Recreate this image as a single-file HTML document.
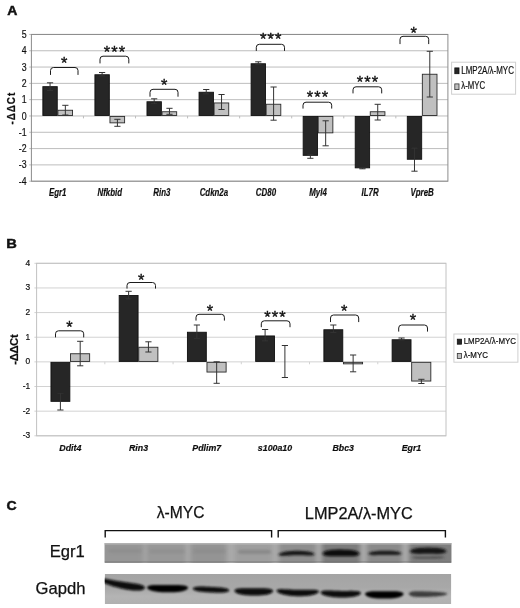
<!DOCTYPE html>
<html lang="en"><head><meta charset="utf-8"><title>Figure</title>
<style>html,body{margin:0;padding:0;background:#fff;}body{width:520px;height:608px;overflow:hidden;}svg{display:block;font-family:"Liberation Sans", sans-serif;}</style></head><body>
<svg width="520" height="608" viewBox="0 0 520 608">
<defs><filter id="b1" filterUnits="userSpaceOnUse" x="90" y="530" width="380" height="90"><feGaussianBlur stdDeviation="1.3 1.0"/></filter><filter id="b2" filterUnits="userSpaceOnUse" x="90" y="530" width="380" height="90"><feGaussianBlur stdDeviation="2.2 0.1"/></filter><filter id="b3" filterUnits="userSpaceOnUse" x="90" y="530" width="380" height="90"><feGaussianBlur stdDeviation="1.6 1.25"/></filter><filter id="soft"><feGaussianBlur stdDeviation="0.45"/></filter></defs>
<rect width="520" height="608" fill="#fff"/>
<g font-weight="bold" fill="#111" stroke="#111" stroke-width="0.45" font-size="13">
<text transform="translate(7.3,14.6) scale(1.13,1)" font-size="12.4">A</text>
<text transform="translate(6.2,248.3) scale(1.13,1)">B</text>
<text transform="translate(6.5,510.3) scale(1.1,1)" font-size="12.8">C</text>
</g>
<g filter="url(#soft)" stroke="#111" stroke-width="0.2">
<rect x="31.4" y="34.45" width="416.5" height="146.75" fill="#fff" stroke="none"/>
<line x1="29.2" y1="181.20" x2="447.9" y2="181.20" stroke="#bdbdbd" stroke-width="1"/>
<text transform="translate(26.6,184.77) scale(0.86,1)" font-size="10.2" text-anchor="end" fill="#111">-4</text>
<line x1="29.2" y1="164.89" x2="447.9" y2="164.89" stroke="#bdbdbd" stroke-width="1"/>
<text transform="translate(26.6,168.46) scale(0.86,1)" font-size="10.2" text-anchor="end" fill="#111">-3</text>
<line x1="29.2" y1="148.59" x2="447.9" y2="148.59" stroke="#bdbdbd" stroke-width="1"/>
<text transform="translate(26.6,152.16) scale(0.86,1)" font-size="10.2" text-anchor="end" fill="#111">-2</text>
<line x1="29.2" y1="132.28" x2="447.9" y2="132.28" stroke="#bdbdbd" stroke-width="1"/>
<text transform="translate(26.6,135.85) scale(0.86,1)" font-size="10.2" text-anchor="end" fill="#111">-1</text>
<line x1="29.2" y1="115.98" x2="447.9" y2="115.98" stroke="#bdbdbd" stroke-width="1"/>
<text transform="translate(26.6,119.55) scale(0.86,1)" font-size="10.2" text-anchor="end" fill="#111">0</text>
<line x1="29.2" y1="99.67" x2="447.9" y2="99.67" stroke="#bdbdbd" stroke-width="1"/>
<text transform="translate(26.6,103.24) scale(0.86,1)" font-size="10.2" text-anchor="end" fill="#111">1</text>
<line x1="29.2" y1="83.37" x2="447.9" y2="83.37" stroke="#bdbdbd" stroke-width="1"/>
<text transform="translate(26.6,86.94) scale(0.86,1)" font-size="10.2" text-anchor="end" fill="#111">2</text>
<line x1="29.2" y1="67.06" x2="447.9" y2="67.06" stroke="#bdbdbd" stroke-width="1"/>
<text transform="translate(26.6,70.63) scale(0.86,1)" font-size="10.2" text-anchor="end" fill="#111">3</text>
<line x1="29.2" y1="50.76" x2="447.9" y2="50.76" stroke="#bdbdbd" stroke-width="1"/>
<text transform="translate(26.6,54.33) scale(0.86,1)" font-size="10.2" text-anchor="end" fill="#111">4</text>
<line x1="29.2" y1="34.45" x2="447.9" y2="34.45" stroke="#bdbdbd" stroke-width="1"/>
<text transform="translate(26.6,38.02) scale(0.86,1)" font-size="10.2" text-anchor="end" fill="#111">5</text>
<rect x="31.4" y="34.45" width="416.5" height="146.75" fill="none" stroke="#8c8c8c" stroke-width="1"/>
<line x1="83.46" y1="115.98" x2="83.46" y2="118.38" stroke="#bdbdbd" stroke-width="1"/>
<line x1="135.53" y1="115.98" x2="135.53" y2="118.38" stroke="#bdbdbd" stroke-width="1"/>
<line x1="187.59" y1="115.98" x2="187.59" y2="118.38" stroke="#bdbdbd" stroke-width="1"/>
<line x1="239.65" y1="115.98" x2="239.65" y2="118.38" stroke="#bdbdbd" stroke-width="1"/>
<line x1="291.71" y1="115.98" x2="291.71" y2="118.38" stroke="#bdbdbd" stroke-width="1"/>
<line x1="343.77" y1="115.98" x2="343.77" y2="118.38" stroke="#bdbdbd" stroke-width="1"/>
<line x1="395.84" y1="115.98" x2="395.84" y2="118.38" stroke="#bdbdbd" stroke-width="1"/>
<rect x="42.85" y="86.65" width="14.40" height="28.88" fill="#262626" stroke="#111" stroke-width="0.9"/>
<rect x="57.90" y="110.25" width="14.65" height="5.28" fill="#c0c0c0" stroke="#2a2a2a" stroke-width="0.9"/>
<path d="M50.05,82.80 L50.05,90.40 M46.95,82.80 h6.2 M46.95,90.40 h6.2" fill="none" stroke="#333" stroke-width="1.0"/>
<path d="M65.35,105.30 L65.35,115.00 M62.25,105.30 h6.2 M62.25,115.00 h6.2" fill="none" stroke="#333" stroke-width="1.0"/>
<text transform="translate(57.70,195.6) scale(0.79,1)" font-size="10.0" font-weight="bold" font-style="italic" text-anchor="middle" fill="#111">Egr1</text>
<path d="M50.50,74.50 L50.50,70.50 Q50.50,67.50 53.50,67.50 L75.00,67.50 Q78.00,67.50 78.00,70.50 L78.00,74.50" fill="none" stroke="#1a1a1a" stroke-width="1.0" stroke-linecap="round"/>
<text x="61.10" y="69.07" font-size="16.4" letter-spacing="1.15" fill="#111" stroke-width="0.35">*</text>
<rect x="94.91" y="74.75" width="14.40" height="40.78" fill="#262626" stroke="#111" stroke-width="0.9"/>
<rect x="109.96" y="116.43" width="14.65" height="6.42" fill="#c0c0c0" stroke="#2a2a2a" stroke-width="0.9"/>
<path d="M102.11,72.50 L102.11,75.80 M99.01,72.50 h6.2 M99.01,75.80 h6.2" fill="none" stroke="#333" stroke-width="1.0"/>
<path d="M117.41,119.30 L117.41,126.30 M114.31,119.30 h6.2 M114.31,126.30 h6.2" fill="none" stroke="#333" stroke-width="1.0"/>
<text transform="translate(109.76,195.6) scale(0.79,1)" font-size="10.0" font-weight="bold" font-style="italic" text-anchor="middle" fill="#111">Nfkbid</text>
<path d="M100.00,63.00 L100.00,59.20 Q100.00,56.20 103.00,56.20 L125.80,56.20 Q128.80,56.20 128.80,59.20 L128.80,63.00" fill="none" stroke="#1a1a1a" stroke-width="1.0" stroke-linecap="round"/>
<text x="103.67" y="57.98" font-size="16.4" letter-spacing="1.15" fill="#111" stroke-width="0.35">***</text>
<rect x="146.97" y="101.75" width="14.40" height="13.78" fill="#262626" stroke="#111" stroke-width="0.9"/>
<rect x="162.03" y="111.75" width="14.65" height="3.78" fill="#c0c0c0" stroke="#2a2a2a" stroke-width="0.9"/>
<path d="M154.18,98.80 L154.18,103.30 M151.08,98.80 h6.2 M151.08,103.30 h6.2" fill="none" stroke="#333" stroke-width="1.0"/>
<path d="M169.48,108.30 L169.48,114.30 M166.38,108.30 h6.2 M166.38,114.30 h6.2" fill="none" stroke="#333" stroke-width="1.0"/>
<text transform="translate(161.83,195.6) scale(0.79,1)" font-size="10.0" font-weight="bold" font-style="italic" text-anchor="middle" fill="#111">Rin3</text>
<path d="M150.00,96.30 L150.00,92.30 Q150.00,89.30 153.00,89.30 L175.00,89.30 Q178.00,89.30 178.00,92.30 L178.00,96.30" fill="none" stroke="#1a1a1a" stroke-width="1.0" stroke-linecap="round"/>
<text x="161.10" y="91.07" font-size="16.4" letter-spacing="1.15" fill="#111" stroke-width="0.35">*</text>
<rect x="199.04" y="92.25" width="14.40" height="23.28" fill="#262626" stroke="#111" stroke-width="0.9"/>
<rect x="214.09" y="102.95" width="14.65" height="12.58" fill="#c0c0c0" stroke="#2a2a2a" stroke-width="0.9"/>
<path d="M206.24,89.50 L206.24,93.80 M203.14,89.50 h6.2 M203.14,93.80 h6.2" fill="none" stroke="#333" stroke-width="1.0"/>
<path d="M221.54,94.50 L221.54,109.50 M218.44,94.50 h6.2 M218.44,109.50 h6.2" fill="none" stroke="#333" stroke-width="1.0"/>
<text transform="translate(213.89,195.6) scale(0.79,1)" font-size="10.0" font-weight="bold" font-style="italic" text-anchor="middle" fill="#111">Cdkn2a</text>
<rect x="251.10" y="63.75" width="14.40" height="51.78" fill="#262626" stroke="#111" stroke-width="0.9"/>
<rect x="266.15" y="104.25" width="14.65" height="11.28" fill="#c0c0c0" stroke="#2a2a2a" stroke-width="0.9"/>
<path d="M258.30,61.80 L258.30,64.30 M255.20,61.80 h6.2 M255.20,64.30 h6.2" fill="none" stroke="#333" stroke-width="1.0"/>
<path d="M273.60,87.00 L273.60,120.20 M270.50,87.00 h6.2 M270.50,120.20 h6.2" fill="none" stroke="#333" stroke-width="1.0"/>
<text transform="translate(265.95,195.6) scale(0.79,1)" font-size="10.0" font-weight="bold" font-style="italic" text-anchor="middle" fill="#111">CD80</text>
<path d="M256.30,50.50 L256.30,47.30 Q256.30,44.30 259.30,44.30 L281.50,44.30 Q284.50,44.30 284.50,47.30 L284.50,50.50" fill="none" stroke="#1a1a1a" stroke-width="1.0" stroke-linecap="round"/>
<text x="259.97" y="45.38" font-size="16.4" letter-spacing="1.15" fill="#111" stroke-width="0.35">***</text>
<rect x="303.16" y="116.43" width="14.40" height="38.92" fill="#262626" stroke="#111" stroke-width="0.9"/>
<rect x="318.21" y="116.43" width="14.65" height="16.42" fill="#c0c0c0" stroke="#2a2a2a" stroke-width="0.9"/>
<path d="M310.36,154.30 L310.36,158.30 M307.26,154.30 h6.2 M307.26,158.30 h6.2" fill="none" stroke="#333" stroke-width="1.0"/>
<path d="M325.66,120.80 L325.66,145.80 M322.56,120.80 h6.2 M322.56,145.80 h6.2" fill="none" stroke="#333" stroke-width="1.0"/>
<text transform="translate(318.01,195.6) scale(0.79,1)" font-size="10.0" font-weight="bold" font-style="italic" text-anchor="middle" fill="#111">Myl4</text>
<path d="M303.00,108.20 L303.00,105.20 Q303.00,102.20 306.00,102.20 L328.70,102.20 Q331.70,102.20 331.70,105.20 L331.70,108.20" fill="none" stroke="#1a1a1a" stroke-width="1.0" stroke-linecap="round"/>
<text x="306.77" y="103.38" font-size="16.4" letter-spacing="1.15" fill="#111" stroke-width="0.35">***</text>
<rect x="355.22" y="116.43" width="14.40" height="51.42" fill="#262626" stroke="#111" stroke-width="0.9"/>
<rect x="370.27" y="111.75" width="14.65" height="3.78" fill="#c0c0c0" stroke="#2a2a2a" stroke-width="0.9"/>
<path d="M362.42,167.80 L362.42,168.80 M359.32,167.80 h6.2 M359.32,168.80 h6.2" fill="none" stroke="#333" stroke-width="1.0"/>
<path d="M377.72,104.30 L377.72,120.00 M374.62,104.30 h6.2 M374.62,120.00 h6.2" fill="none" stroke="#333" stroke-width="1.0"/>
<text transform="translate(370.07,195.6) scale(0.79,1)" font-size="10.0" font-weight="bold" font-style="italic" text-anchor="middle" fill="#111">IL7R</text>
<path d="M353.00,93.00 L353.00,89.80 Q353.00,86.80 356.00,86.80 L378.70,86.80 Q381.70,86.80 381.70,89.80 L381.70,93.00" fill="none" stroke="#1a1a1a" stroke-width="1.0" stroke-linecap="round"/>
<text x="356.77" y="88.07" font-size="16.4" letter-spacing="1.15" fill="#111" stroke-width="0.35">***</text>
<rect x="407.29" y="116.43" width="14.40" height="42.82" fill="#262626" stroke="#111" stroke-width="0.9"/>
<rect x="422.34" y="74.25" width="14.65" height="41.28" fill="#c0c0c0" stroke="#2a2a2a" stroke-width="0.9"/>
<path d="M414.49,148.20 L414.49,171.20 M411.39,148.20 h6.2 M411.39,171.20 h6.2" fill="none" stroke="#333" stroke-width="1.0"/>
<path d="M429.79,51.30 L429.79,97.00 M426.69,51.30 h6.2 M426.69,97.00 h6.2" fill="none" stroke="#333" stroke-width="1.0"/>
<text transform="translate(422.14,195.6) scale(0.79,1)" font-size="10.0" font-weight="bold" font-style="italic" text-anchor="middle" fill="#111">VpreB</text>
<path d="M400.00,43.70 L400.00,39.30 Q400.00,36.30 403.00,36.30 L425.70,36.30 Q428.70,36.30 428.70,39.30 L428.70,43.70" fill="none" stroke="#1a1a1a" stroke-width="1.0" stroke-linecap="round"/>
<text x="410.60" y="38.58" font-size="16.4" letter-spacing="1.15" fill="#111" stroke-width="0.35">*</text>
<text transform="translate(14.7,124.60000000000001) rotate(-90) scale(1,1.14)" font-size="9.8" font-weight="bold" textLength="31.8" lengthAdjust="spacing" fill="#111">-ΔΔCt</text>
<rect x="451.6" y="62.2" width="64.0" height="32.0" fill="#fff" stroke="#cfcfcf" stroke-width="1"/>
<rect x="454.8" y="67.9" width="4.2" height="5.799999999999997" fill="#262626" stroke="#111" stroke-width="0.8"/>
<rect x="454.8" y="83.9" width="4.2" height="5.699999999999989" fill="#c0c0c0" stroke="#333" stroke-width="0.8"/>
<text x="461.3" y="73.8" font-size="10.4" textLength="52.6" lengthAdjust="spacingAndGlyphs" fill="#111">LMP2A/λ-MYC</text>
<text x="461.3" y="89.4" font-size="10.4" textLength="23.8" lengthAdjust="spacingAndGlyphs" fill="#111">λ-MYC</text>
<rect x="36.6" y="263.3" width="409.4" height="172.5" fill="#fff" stroke="none"/>
<line x1="34.4" y1="435.80" x2="446.0" y2="435.80" stroke="#d2d2d2" stroke-width="1"/>
<text transform="translate(30.2,438.14) scale(1.0,1)" font-size="8.4" text-anchor="end" fill="#111">-3</text>
<line x1="34.4" y1="411.16" x2="446.0" y2="411.16" stroke="#d2d2d2" stroke-width="1"/>
<text transform="translate(30.2,413.50) scale(1.0,1)" font-size="8.4" text-anchor="end" fill="#111">-2</text>
<line x1="34.4" y1="386.51" x2="446.0" y2="386.51" stroke="#d2d2d2" stroke-width="1"/>
<text transform="translate(30.2,388.85) scale(1.0,1)" font-size="8.4" text-anchor="end" fill="#111">-1</text>
<line x1="34.4" y1="361.87" x2="446.0" y2="361.87" stroke="#d2d2d2" stroke-width="1"/>
<text transform="translate(30.2,364.21) scale(1.0,1)" font-size="8.4" text-anchor="end" fill="#111">0</text>
<line x1="34.4" y1="337.23" x2="446.0" y2="337.23" stroke="#d2d2d2" stroke-width="1"/>
<text transform="translate(30.2,339.57) scale(1.0,1)" font-size="8.4" text-anchor="end" fill="#111">1</text>
<line x1="34.4" y1="312.59" x2="446.0" y2="312.59" stroke="#d2d2d2" stroke-width="1"/>
<text transform="translate(30.2,314.93) scale(1.0,1)" font-size="8.4" text-anchor="end" fill="#111">2</text>
<line x1="34.4" y1="287.94" x2="446.0" y2="287.94" stroke="#d2d2d2" stroke-width="1"/>
<text transform="translate(30.2,290.28) scale(1.0,1)" font-size="8.4" text-anchor="end" fill="#111">3</text>
<line x1="34.4" y1="263.30" x2="446.0" y2="263.30" stroke="#d2d2d2" stroke-width="1"/>
<text transform="translate(30.2,265.64) scale(1.0,1)" font-size="8.4" text-anchor="end" fill="#111">4</text>
<rect x="36.6" y="263.3" width="409.4" height="172.5" fill="none" stroke="#c2c2c2" stroke-width="1"/>
<line x1="104.83" y1="361.87" x2="104.83" y2="364.27" stroke="#d2d2d2" stroke-width="1"/>
<line x1="173.07" y1="361.87" x2="173.07" y2="364.27" stroke="#d2d2d2" stroke-width="1"/>
<line x1="241.30" y1="361.87" x2="241.30" y2="364.27" stroke="#d2d2d2" stroke-width="1"/>
<line x1="309.53" y1="361.87" x2="309.53" y2="364.27" stroke="#d2d2d2" stroke-width="1"/>
<line x1="377.77" y1="361.87" x2="377.77" y2="364.27" stroke="#d2d2d2" stroke-width="1"/>
<rect x="50.95" y="362.32" width="18.90" height="39.03" fill="#262626" stroke="#111" stroke-width="0.9"/>
<rect x="70.50" y="353.75" width="19.15" height="7.67" fill="#c0c0c0" stroke="#2a2a2a" stroke-width="0.9"/>
<path d="M60.40,393.30 L60.40,410.00 M57.30,393.30 h6.2 M57.30,410.00 h6.2" fill="none" stroke="#333" stroke-width="1.0"/>
<path d="M80.20,341.30 L80.20,365.80 M77.10,341.30 h6.2 M77.10,365.80 h6.2" fill="none" stroke="#333" stroke-width="1.0"/>
<text transform="translate(70.30,450.8) scale(0.98,1)" font-size="9.0" font-weight="bold" font-style="italic" text-anchor="middle" fill="#111">Ddit4</text>
<path d="M55.50,337.00 L55.50,333.80 Q55.50,330.80 58.50,330.80 L80.70,330.80 Q83.70,330.80 83.70,333.80 L83.70,337.00" fill="none" stroke="#1a1a1a" stroke-width="1.0" stroke-linecap="round"/>
<text x="66.30" y="332.77" font-size="16.4" letter-spacing="1.15" fill="#111" stroke-width="0.35">*</text>
<rect x="119.18" y="295.55" width="18.90" height="65.87" fill="#262626" stroke="#111" stroke-width="0.9"/>
<rect x="138.73" y="347.25" width="19.15" height="14.17" fill="#c0c0c0" stroke="#2a2a2a" stroke-width="0.9"/>
<path d="M128.63,291.30 L128.63,298.80 M125.53,291.30 h6.2 M125.53,298.80 h6.2" fill="none" stroke="#333" stroke-width="1.0"/>
<path d="M148.43,341.80 L148.43,352.00 M145.33,341.80 h6.2 M145.33,352.00 h6.2" fill="none" stroke="#333" stroke-width="1.0"/>
<text transform="translate(138.53,450.8) scale(0.98,1)" font-size="9.0" font-weight="bold" font-style="italic" text-anchor="middle" fill="#111">Rin3</text>
<path d="M127.00,288.20 L127.00,285.50 Q127.00,282.50 130.00,282.50 L152.50,282.50 Q155.50,282.50 155.50,285.50 L155.50,288.20" fill="none" stroke="#1a1a1a" stroke-width="1.0" stroke-linecap="round"/>
<text x="138.00" y="285.77" font-size="16.4" letter-spacing="1.15" fill="#111" stroke-width="0.35">*</text>
<rect x="187.42" y="332.25" width="18.90" height="29.17" fill="#262626" stroke="#111" stroke-width="0.9"/>
<rect x="206.97" y="362.32" width="19.15" height="9.73" fill="#c0c0c0" stroke="#2a2a2a" stroke-width="0.9"/>
<path d="M196.87,325.00 L196.87,338.30 M193.77,325.00 h6.2 M193.77,338.30 h6.2" fill="none" stroke="#333" stroke-width="1.0"/>
<path d="M216.67,361.80 L216.67,383.30 M213.57,361.80 h6.2 M213.57,383.30 h6.2" fill="none" stroke="#333" stroke-width="1.0"/>
<text transform="translate(206.77,450.8) scale(0.98,1)" font-size="9.0" font-weight="bold" font-style="italic" text-anchor="middle" fill="#111">Pdlim7</text>
<path d="M196.00,320.20 L196.00,317.30 Q196.00,314.30 199.00,314.30 L221.40,314.30 Q224.40,314.30 224.40,317.30 L224.40,320.20" fill="none" stroke="#1a1a1a" stroke-width="1.0" stroke-linecap="round"/>
<text x="206.80" y="317.07" font-size="16.4" letter-spacing="1.15" fill="#111" stroke-width="0.35">*</text>
<rect x="255.65" y="335.95" width="18.90" height="25.47" fill="#262626" stroke="#111" stroke-width="0.9"/>
<path d="M265.10,329.50 L265.10,340.80 M262.00,329.50 h6.2 M262.00,340.80 h6.2" fill="none" stroke="#333" stroke-width="1.0"/>
<path d="M284.90,345.50 L284.90,377.50 M281.80,345.50 h6.2 M281.80,377.50 h6.2" fill="none" stroke="#333" stroke-width="1.0"/>
<text transform="translate(275.00,450.8) scale(0.98,1)" font-size="9.0" font-weight="bold" font-style="italic" text-anchor="middle" fill="#111">s100a10</text>
<path d="M261.30,326.80 L261.30,323.80 Q261.30,320.80 264.30,320.80 L287.00,320.80 Q290.00,320.80 290.00,323.80 L290.00,326.80" fill="none" stroke="#1a1a1a" stroke-width="1.0" stroke-linecap="round"/>
<text x="264.27" y="323.27" font-size="16.4" letter-spacing="1.15" fill="#111" stroke-width="0.35">***</text>
<rect x="323.88" y="329.75" width="18.90" height="31.67" fill="#262626" stroke="#111" stroke-width="0.9"/>
<rect x="343.43" y="362.32" width="19.15" height="1.53" fill="#c0c0c0" stroke="#2a2a2a" stroke-width="0.9"/>
<path d="M333.33,325.00 L333.33,332.50 M330.23,325.00 h6.2 M330.23,332.50 h6.2" fill="none" stroke="#333" stroke-width="1.0"/>
<path d="M353.13,355.00 L353.13,371.80 M350.03,355.00 h6.2 M350.03,371.80 h6.2" fill="none" stroke="#333" stroke-width="1.0"/>
<text transform="translate(343.23,450.8) scale(0.98,1)" font-size="9.0" font-weight="bold" font-style="italic" text-anchor="middle" fill="#111">Bbc3</text>
<path d="M330.50,321.70 L330.50,318.00 Q330.50,315.00 333.50,315.00 L355.70,315.00 Q358.70,315.00 358.70,318.00 L358.70,321.70" fill="none" stroke="#1a1a1a" stroke-width="1.0" stroke-linecap="round"/>
<text x="341.00" y="317.07" font-size="16.4" letter-spacing="1.15" fill="#111" stroke-width="0.35">*</text>
<rect x="392.12" y="339.75" width="18.90" height="21.67" fill="#262626" stroke="#111" stroke-width="0.9"/>
<rect x="411.67" y="362.32" width="19.15" height="18.73" fill="#c0c0c0" stroke="#2a2a2a" stroke-width="0.9"/>
<path d="M401.57,338.00 L401.57,340.00 M398.47,338.00 h6.2 M398.47,340.00 h6.2" fill="none" stroke="#333" stroke-width="1.0"/>
<path d="M421.37,379.30 L421.37,383.50 M418.27,379.30 h6.2 M418.27,383.50 h6.2" fill="none" stroke="#333" stroke-width="1.0"/>
<text transform="translate(411.47,450.8) scale(0.98,1)" font-size="9.0" font-weight="bold" font-style="italic" text-anchor="middle" fill="#111">Egr1</text>
<path d="M398.70,331.20 L398.70,328.00 Q398.70,325.00 401.70,325.00 L424.50,325.00 Q427.50,325.00 427.50,328.00 L427.50,331.20" fill="none" stroke="#1a1a1a" stroke-width="1.0" stroke-linecap="round"/>
<text x="409.80" y="326.07" font-size="16.4" letter-spacing="1.15" fill="#111" stroke-width="0.35">*</text>
<text transform="translate(17.9,364.65) rotate(-90) scale(1,1.0)" font-size="11.3" font-weight="bold" textLength="30.3" lengthAdjust="spacing" fill="#111">-ΔΔCt</text>
<rect x="453.9" y="334.0" width="64.0" height="28.19999999999999" fill="#fff" stroke="#cfcfcf" stroke-width="1"/>
<rect x="457.3" y="339.2" width="4.3" height="5.0" fill="#262626" stroke="#111" stroke-width="0.8"/>
<rect x="457.3" y="353.4" width="4.3" height="5.0" fill="#c0c0c0" stroke="#333" stroke-width="0.8"/>
<text x="463.7" y="344.3" font-size="9.0" textLength="52.3" lengthAdjust="spacingAndGlyphs" fill="#111">LMP2A/λ-MYC</text>
<text x="463.7" y="358.3" font-size="9.0" textLength="24.2" lengthAdjust="spacingAndGlyphs" fill="#111">λ-MYC</text>
</g>
<g stroke="#111" stroke-width="0.25">
<text x="180.6" y="518.4" font-size="15.6" text-anchor="middle" fill="#111">λ-MYC</text>
<text x="304.8" y="518.8" font-size="15.6" textLength="108" lengthAdjust="spacingAndGlyphs" fill="#111">LMP2A/λ-MYC</text>
<text x="84.8" y="556.9" font-size="16.6" text-anchor="end" fill="#111">Egr1</text>
<text x="85.4" y="593.8" font-size="16.6" text-anchor="end" fill="#111">Gapdh</text>
</g>
<path d="M105.2,537.5 V530.6 H271.6 V537.5" fill="none" stroke="#111" stroke-width="1.4"/>
<path d="M278.2,537.5 V530.6 H445.4 V537.5" fill="none" stroke="#111" stroke-width="1.4"/>
<clipPath id="c1"><rect x="104.6" y="543.0" width="346.79999999999995" height="19.799999999999955"/></clipPath>
<g clip-path="url(#c1)">
<rect x="104.6" y="543.0" width="346.79999999999995" height="19.799999999999955" fill="#a9a9a9"/>
<g filter="url(#b2)">
<rect x="100" y="537.0" width="43.5" height="31.799999999999955" fill="#969696"/>
<rect x="146.5" y="537.0" width="39.0" height="31.799999999999955" fill="#989898"/>
<rect x="190.5" y="537.0" width="36.0" height="31.799999999999955" fill="#949494"/>
<rect x="235" y="537.0" width="37" height="31.799999999999955" fill="#9e9e9e"/>
<rect x="279" y="537.0" width="37" height="31.799999999999955" fill="#8e8e8e"/>
<rect x="322" y="537.0" width="38" height="31.799999999999955" fill="#7c7c7c"/>
<rect x="367" y="537.0" width="35" height="31.799999999999955" fill="#8a8a8a"/>
<rect x="409" y="537.0" width="47" height="31.799999999999955" fill="#7e7e7e"/>
</g>
<rect x="104.6" y="543.0" width="346.79999999999995" height="1.6" fill="#c4c4c4" opacity="0.6"/>
<rect x="104.6" y="561.5" width="346.79999999999995" height="1.3" fill="#6c6c6c" opacity="0.7"/>
<g filter="url(#b3)" fill="none" stroke-linecap="round">
<path d="M110,551.0 H140" stroke="#858585" stroke-width="4.4" opacity="0.4"/>
<path d="M151,551.4 H183" stroke="#858585" stroke-width="4.4" opacity="0.35"/>
<path d="M195,551.4 H224" stroke="#858585" stroke-width="4.4" opacity="0.4"/>
<path d="M240,551.8 H269" stroke="#7a7a7a" stroke-width="4.2" opacity="0.55"/>
<path d="M278.5,554.80 L279.8,553.45 L281.1,552.85 L282.4,552.41 L283.6,552.07 L284.9,551.79 L286.2,551.56 L287.5,551.37 L288.8,551.22 L290.1,551.09 L291.4,551.00 L292.6,550.92 L293.9,550.86 L295.2,550.82 L296.5,550.80 L297.8,550.79 L299.1,550.80 L300.4,550.83 L301.6,550.88 L302.9,550.95 L304.2,551.05 L305.5,551.17 L306.8,551.33 L308.1,551.53 L309.4,551.78 L310.6,552.10 L311.9,552.51 L313.2,553.08 L314.5,554.40 L314.5,554.40 L313.2,555.31 L311.9,555.50 L310.6,555.56 L309.4,555.57 L308.1,555.54 L306.8,555.49 L305.5,555.43 L304.2,555.37 L302.9,555.31 L301.6,555.27 L300.4,555.23 L299.1,555.20 L297.8,555.19 L296.5,555.20 L295.2,555.22 L293.9,555.26 L292.6,555.31 L291.4,555.38 L290.1,555.46 L288.8,555.54 L287.5,555.63 L286.2,555.72 L284.9,555.79 L283.6,555.85 L282.4,555.88 L281.1,555.84 L279.8,555.68 L278.5,554.80Z" fill="#181818" opacity="1" stroke="none"/>
<path d="M322.5,553.60 L323.8,551.83 L325.1,551.16 L326.5,550.72 L327.8,550.40 L329.1,550.16 L330.4,549.98 L331.8,549.85 L333.1,549.76 L334.4,549.69 L335.7,549.65 L337.0,549.62 L338.4,549.60 L339.7,549.60 L341.0,549.60 L342.3,549.61 L343.6,549.63 L345.0,549.66 L346.3,549.70 L347.6,549.76 L348.9,549.85 L350.2,549.95 L351.6,550.10 L352.9,550.29 L354.2,550.54 L355.5,550.88 L356.9,551.33 L358.2,552.01 L359.5,553.80 L359.5,553.80 L358.2,555.35 L356.9,555.81 L355.5,556.07 L354.2,556.22 L352.9,556.30 L351.6,556.34 L350.2,556.35 L348.9,556.33 L347.6,556.31 L346.3,556.28 L345.0,556.25 L343.6,556.23 L342.3,556.21 L341.0,556.20 L339.7,556.20 L338.4,556.20 L337.0,556.21 L335.7,556.23 L334.4,556.24 L333.1,556.25 L331.8,556.25 L330.4,556.22 L329.1,556.17 L327.8,556.07 L326.5,555.91 L325.1,555.64 L323.8,555.17 L322.5,553.60Z" fill="#0c0c0c" opacity="1" stroke="none"/>
<path d="M368.5,553.80 L369.7,552.61 L370.9,552.12 L372.0,551.78 L373.2,551.52 L374.4,551.32 L375.6,551.17 L376.8,551.04 L377.9,550.94 L379.1,550.87 L380.3,550.81 L381.5,550.76 L382.6,550.73 L383.8,550.71 L385.0,550.70 L386.2,550.70 L387.4,550.70 L388.5,550.72 L389.7,550.75 L390.9,550.80 L392.1,550.86 L393.2,550.94 L394.4,551.05 L395.6,551.20 L396.8,551.38 L398.0,551.62 L399.1,551.95 L400.3,552.42 L401.5,553.60 L401.5,553.60 L400.3,554.55 L399.1,554.80 L398.0,554.93 L396.8,554.99 L395.6,555.02 L394.4,555.02 L393.2,555.01 L392.1,554.99 L390.9,554.96 L389.7,554.94 L388.5,554.92 L387.4,554.90 L386.2,554.90 L385.0,554.90 L383.8,554.91 L382.6,554.93 L381.5,554.96 L380.3,555.00 L379.1,555.03 L377.9,555.07 L376.8,555.11 L375.6,555.14 L374.4,555.15 L373.2,555.14 L372.0,555.09 L370.9,554.97 L369.7,554.73 L368.5,553.80Z" fill="#1c1c1c" opacity="1" stroke="none"/>
<path d="M410.0,551.40 L411.3,549.73 L412.6,549.11 L413.9,548.69 L415.2,548.39 L416.5,548.17 L417.8,548.00 L419.1,547.87 L420.4,547.78 L421.7,547.71 L423.0,547.67 L424.3,547.64 L425.6,547.61 L426.9,547.60 L428.2,547.60 L429.6,547.60 L430.9,547.61 L432.2,547.64 L433.5,547.67 L434.8,547.71 L436.1,547.78 L437.4,547.87 L438.7,548.00 L440.0,548.17 L441.3,548.39 L442.6,548.69 L443.9,549.11 L445.2,549.73 L446.5,551.40 L446.5,551.40 L445.2,552.87 L443.9,553.32 L442.6,553.57 L441.3,553.72 L440.0,553.81 L438.7,553.86 L437.4,553.88 L436.1,553.88 L434.8,553.86 L433.5,553.85 L432.2,553.83 L430.9,553.81 L429.6,553.80 L428.2,553.80 L426.9,553.80 L425.6,553.81 L424.3,553.83 L423.0,553.85 L421.7,553.86 L420.4,553.88 L419.1,553.88 L417.8,553.86 L416.5,553.81 L415.2,553.72 L413.9,553.57 L412.6,553.32 L411.3,552.87 L410.0,551.40Z" fill="#161616" opacity="1" stroke="none"/>
<path d="M412.0,557.40 L413.2,556.83 L414.4,556.65 L415.5,556.55 L416.7,556.49 L417.9,556.45 L419.1,556.42 L420.2,556.41 L421.4,556.41 L422.6,556.41 L423.8,556.41 L425.0,556.41 L426.1,556.41 L427.3,556.41 L428.5,556.40 L429.7,556.39 L430.9,556.38 L432.0,556.37 L433.2,556.35 L434.4,556.34 L435.6,556.32 L436.8,556.31 L437.9,556.31 L439.1,556.32 L440.3,556.34 L441.5,556.39 L442.6,556.48 L443.8,556.64 L445.0,557.20 L445.0,557.20 L443.8,557.86 L442.6,558.11 L441.5,558.28 L440.3,558.41 L439.1,558.50 L437.9,558.58 L436.8,558.64 L435.6,558.68 L434.4,558.72 L433.2,558.74 L432.0,558.76 L430.9,558.78 L429.7,558.79 L428.5,558.80 L427.3,558.81 L426.1,558.81 L425.0,558.81 L423.8,558.80 L422.6,558.79 L421.4,558.77 L420.2,558.74 L419.1,558.69 L417.9,558.63 L416.7,558.55 L415.5,558.44 L414.4,558.28 L413.2,558.04 L412.0,557.40Z" fill="#444" opacity="0.8" stroke="none"/>
</g>
</g>
<clipPath id="c2"><rect x="104.7" y="573.9" width="346.6" height="30.100000000000023"/></clipPath>
<linearGradient id="gg" x1="0" y1="0" x2="0" y2="1"><stop offset="0" stop-color="#a4a4a4"/><stop offset="0.45" stop-color="#a8a8a8"/><stop offset="0.75" stop-color="#b4b4b4"/><stop offset="1" stop-color="#b0b0b0"/></linearGradient>
<g clip-path="url(#c2)">
<rect x="104.7" y="573.9" width="346.6" height="30.100000000000023" fill="url(#gg)"/>
<g filter="url(#b1)" fill="none" stroke-linecap="round">
<path d="M97.0,578.40 L98.7,577.80 L100.4,577.91 L102.2,578.14 L103.9,578.42 L105.6,578.72 L107.3,579.05 L109.0,579.38 L110.8,579.72 L112.5,580.05 L114.2,580.38 L115.9,580.71 L117.7,581.02 L119.4,581.32 L121.1,581.60 L122.8,581.86 L124.5,582.11 L126.3,582.34 L128.0,582.56 L129.7,582.78 L131.4,583.00 L133.1,583.23 L134.9,583.47 L136.6,583.75 L138.3,584.07 L140.0,584.47 L141.8,584.98 L143.5,585.71 L145.2,587.70 L145.2,587.70 L143.5,589.56 L141.8,590.13 L140.0,590.43 L138.3,590.58 L136.6,590.62 L134.9,590.57 L133.1,590.45 L131.4,590.27 L129.7,590.05 L128.0,589.78 L126.3,589.48 L124.5,589.14 L122.8,588.78 L121.1,588.40 L119.4,588.00 L117.7,587.57 L115.9,587.12 L114.2,586.64 L112.5,586.13 L110.8,585.58 L109.0,585.00 L107.3,584.37 L105.6,583.69 L103.9,582.95 L102.2,582.15 L100.4,581.25 L98.7,580.20 L97.0,578.40Z" fill="#0a0a0a" opacity="1" stroke="none"/>
<path d="M146.8,587.40 L148.3,585.91 L149.8,585.48 L151.2,585.23 L152.7,585.08 L154.2,585.00 L155.7,584.95 L157.2,584.94 L158.7,584.95 L160.1,584.97 L161.6,585.00 L163.1,585.03 L164.6,585.06 L166.1,585.08 L167.6,585.10 L169.0,585.11 L170.5,585.10 L172.0,585.09 L173.5,585.08 L175.0,585.07 L176.4,585.07 L177.9,585.09 L179.4,585.12 L180.9,585.19 L182.4,585.30 L183.9,585.47 L185.3,585.74 L186.8,586.19 L188.3,587.70 L188.3,587.70 L186.8,589.50 L185.3,590.23 L183.9,590.75 L182.4,591.14 L180.9,591.45 L179.4,591.70 L177.9,591.89 L176.4,592.03 L175.0,592.14 L173.5,592.22 L172.0,592.27 L170.5,592.29 L169.0,592.30 L167.6,592.30 L166.1,592.28 L164.6,592.25 L163.1,592.20 L161.6,592.13 L160.1,592.03 L158.7,591.90 L157.2,591.74 L155.7,591.52 L154.2,591.26 L152.7,590.93 L151.2,590.51 L149.8,589.97 L148.3,589.22 L146.8,587.40Z" fill="#060606" opacity="1" stroke="none"/>
<path d="M192.6,588.60 L193.9,587.41 L195.2,587.03 L196.5,586.82 L197.9,586.68 L199.2,586.60 L200.5,586.56 L201.8,586.56 L203.1,586.57 L204.4,586.61 L205.7,586.65 L207.1,586.71 L208.4,586.77 L209.7,586.83 L211.0,586.90 L212.3,586.96 L213.6,587.03 L214.9,587.09 L216.3,587.17 L217.6,587.25 L218.9,587.34 L220.2,587.46 L221.5,587.59 L222.8,587.76 L224.1,587.97 L225.5,588.23 L226.8,588.58 L228.1,589.08 L229.4,590.40 L229.4,590.40 L228.1,591.65 L226.8,592.07 L225.5,592.34 L224.1,592.51 L222.8,592.63 L221.5,592.70 L220.2,592.74 L218.9,592.75 L217.6,592.74 L216.3,592.72 L214.9,592.67 L213.6,592.62 L212.3,592.56 L211.0,592.50 L209.7,592.43 L208.4,592.36 L207.1,592.29 L205.7,592.20 L204.4,592.10 L203.1,591.98 L201.8,591.84 L200.5,591.68 L199.2,591.47 L197.9,591.23 L196.5,590.92 L195.2,590.53 L193.9,589.98 L192.6,588.60Z" fill="#0c0c0c" opacity="1" stroke="none"/>
<path d="M234.2,590.80 L235.6,589.29 L237.0,588.83 L238.4,588.56 L239.8,588.40 L241.2,588.29 L242.6,588.23 L244.0,588.20 L245.4,588.20 L246.8,588.20 L248.2,588.22 L249.6,588.25 L251.0,588.27 L252.4,588.29 L253.8,588.30 L255.1,588.30 L256.5,588.30 L257.9,588.29 L259.3,588.28 L260.7,588.28 L262.1,588.28 L263.5,588.30 L264.9,588.34 L266.3,588.42 L267.7,588.54 L269.1,588.72 L270.5,589.00 L271.9,589.48 L273.3,591.00 L273.3,591.00 L271.9,592.78 L270.5,593.50 L269.1,594.00 L267.7,594.38 L266.3,594.68 L264.9,594.92 L263.5,595.10 L262.1,595.24 L260.7,595.34 L259.3,595.41 L257.9,595.46 L256.5,595.49 L255.1,595.50 L253.8,595.50 L252.4,595.49 L251.0,595.46 L249.6,595.42 L248.2,595.36 L246.8,595.27 L245.4,595.15 L244.0,595.00 L242.6,594.80 L241.2,594.55 L239.8,594.24 L238.4,593.84 L237.0,593.33 L235.6,592.60 L234.2,590.80Z" fill="#080808" opacity="1" stroke="none"/>
<path d="M276.2,590.60 L277.7,589.43 L279.3,589.19 L280.8,589.10 L282.3,589.10 L283.9,589.13 L285.4,589.20 L286.9,589.28 L288.5,589.37 L290.0,589.46 L291.6,589.55 L293.1,589.63 L294.6,589.71 L296.2,589.76 L297.7,589.80 L299.2,589.82 L300.8,589.82 L302.3,589.81 L303.8,589.78 L305.4,589.75 L306.9,589.71 L308.4,589.68 L310.0,589.65 L311.5,589.65 L313.1,589.67 L314.6,589.73 L316.1,589.88 L317.7,590.18 L319.2,591.40 L319.2,591.40 L317.7,593.12 L316.1,593.87 L314.6,594.43 L313.1,594.86 L311.5,595.21 L310.0,595.50 L308.4,595.72 L306.9,595.90 L305.4,596.03 L303.8,596.12 L302.3,596.18 L300.8,596.21 L299.2,596.22 L297.7,596.20 L296.2,596.16 L294.6,596.10 L293.1,596.01 L291.6,595.89 L290.0,595.74 L288.5,595.55 L286.9,595.32 L285.4,595.04 L283.9,594.70 L282.3,594.29 L280.8,593.80 L279.3,593.18 L277.7,592.37 L276.2,590.60Z" fill="#0a0a0a" opacity="1" stroke="none"/>
<path d="M320.4,592.40 L321.9,591.11 L323.3,590.78 L324.8,590.62 L326.2,590.54 L327.7,590.52 L329.1,590.53 L330.6,590.56 L332.1,590.61 L333.5,590.66 L335.0,590.72 L336.4,590.78 L337.9,590.83 L339.3,590.87 L340.8,590.90 L342.3,590.91 L343.7,590.92 L345.2,590.91 L346.6,590.89 L348.1,590.88 L349.5,590.86 L351.0,590.86 L352.5,590.87 L353.9,590.90 L355.4,590.97 L356.8,591.09 L358.3,591.30 L359.7,591.67 L361.2,593.00 L361.2,593.00 L359.7,594.70 L358.3,595.41 L356.8,595.93 L355.4,596.33 L353.9,596.64 L352.5,596.89 L351.0,597.09 L349.5,597.24 L348.1,597.35 L346.6,597.43 L345.2,597.48 L343.7,597.51 L342.3,597.51 L340.8,597.50 L339.3,597.47 L337.9,597.42 L336.4,597.35 L335.0,597.26 L333.5,597.14 L332.1,596.98 L330.6,596.79 L329.1,596.55 L327.7,596.26 L326.2,595.90 L324.8,595.46 L323.3,594.90 L321.9,594.14 L320.4,592.40Z" fill="#0a0a0a" opacity="1" stroke="none"/>
<path d="M364.8,594.00 L366.2,592.42 L367.6,591.93 L369.0,591.63 L370.4,591.44 L371.8,591.31 L373.2,591.23 L374.6,591.18 L375.9,591.16 L377.3,591.15 L378.7,591.16 L380.1,591.17 L381.5,591.19 L382.9,591.20 L384.3,591.20 L385.7,591.20 L387.1,591.19 L388.5,591.17 L389.9,591.16 L391.3,591.15 L392.7,591.16 L394.1,591.18 L395.4,591.23 L396.8,591.31 L398.2,591.44 L399.6,591.63 L401.0,591.93 L402.4,592.42 L403.8,594.00 L403.8,594.00 L402.4,595.82 L401.0,596.55 L399.6,597.06 L398.2,597.45 L396.8,597.75 L395.4,597.98 L394.1,598.17 L392.7,598.31 L391.3,598.42 L389.9,598.49 L388.5,598.55 L387.1,598.58 L385.7,598.60 L384.3,598.60 L382.9,598.60 L381.5,598.58 L380.1,598.55 L378.7,598.49 L377.3,598.42 L375.9,598.31 L374.6,598.17 L373.2,597.98 L371.8,597.75 L370.4,597.45 L369.0,597.06 L367.6,596.55 L366.2,595.82 L364.8,594.00Z" fill="#060606" opacity="1" stroke="none"/>
<path d="M408.6,593.80 L410.0,592.27 L411.4,591.79 L412.8,591.51 L414.2,591.33 L415.5,591.23 L416.9,591.18 L418.3,591.17 L419.7,591.18 L421.1,591.22 L422.5,591.26 L423.9,591.32 L425.3,591.38 L426.7,591.44 L428.1,591.50 L429.4,591.56 L430.8,591.61 L432.2,591.66 L433.6,591.72 L435.0,591.78 L436.4,591.85 L437.8,591.93 L439.2,592.03 L440.6,592.14 L441.9,592.27 L443.3,592.44 L444.7,592.65 L446.1,592.96 L447.5,593.80 L447.5,593.80 L446.1,594.75 L444.7,595.16 L443.3,595.47 L441.9,595.72 L440.6,595.93 L439.2,596.11 L437.8,596.27 L436.4,596.40 L435.0,596.51 L433.6,596.61 L432.2,596.70 L430.8,596.77 L429.4,596.84 L428.1,596.90 L426.7,596.96 L425.3,597.00 L423.9,597.04 L422.5,597.07 L421.1,597.08 L419.7,597.07 L418.3,597.03 L416.9,596.96 L415.5,596.84 L414.2,596.66 L412.8,596.40 L411.4,596.02 L410.0,595.44 L408.6,593.80Z" fill="#303030" opacity="0.9" stroke="none"/>
</g>
</g>
</svg></body></html>
